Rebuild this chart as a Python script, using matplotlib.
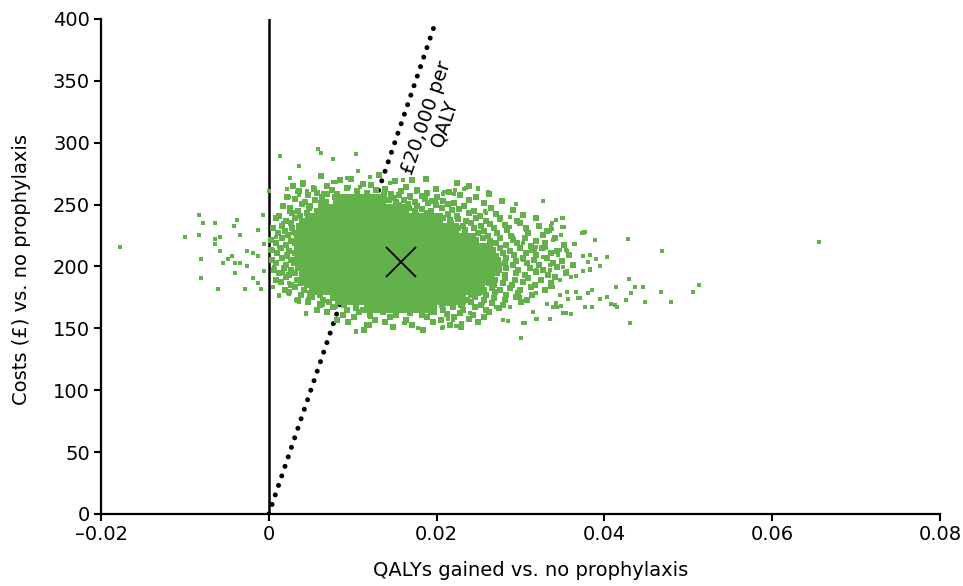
import numpy as np
import matplotlib
matplotlib.use('Agg')
import matplotlib.pyplot as plt

plt.rcParams['font.family'] = ['DejaVu Sans']

# tick labels
xticks = [-0.02, 0, 0.02, 0.04, 0.06, 0.08]
xtick_labels = ['\u20130.02', '0', '0.02', '0.04', '0.06', '0.08']
yticks = [0, 50, 100, 150, 200, 250, 300, 350, 400]

# mean of the simulations
mean_qaly = 0.0157
mean_cost = 204

# threshold line (£20,000 per QALY)
wtp = 20000
wtp_qaly = [0, 0.0199]

# dense core of the cloud: rows of cost -> qalys
core_rows = {
    254: [0.0084, 0.0096, 0.0108, 0.0120, 0.0132],
    246: [0.0066, 0.0078, 0.0090, 0.0102, 0.0114, 0.0126, 0.0138, 0.0150, 0.0160],
    238: [0.0050, 0.0060, 0.0072, 0.0084, 0.0096, 0.0108, 0.0120, 0.0132, 0.0144,
          0.0156, 0.0168, 0.0180, 0.0192, 0.0201],
    230: [0.0044, 0.0054, 0.0066, 0.0078, 0.0090, 0.0102, 0.0114, 0.0126, 0.0138,
          0.0150, 0.0162, 0.0174, 0.0186, 0.0198, 0.0210, 0.0219],
    222: [0.0041, 0.0051, 0.0063, 0.0075, 0.0087, 0.0099, 0.0111, 0.0123, 0.0135,
          0.0147, 0.0159, 0.0171, 0.0183, 0.0195, 0.0207, 0.0219, 0.0231, 0.0240],
    214: [0.0041, 0.0051, 0.0063, 0.0075, 0.0087, 0.0099, 0.0111, 0.0123, 0.0135,
          0.0147, 0.0159, 0.0171, 0.0183, 0.0195, 0.0207, 0.0219, 0.0231, 0.0243,
          0.0255, 0.0260],
    206: [0.0041, 0.0051, 0.0063, 0.0075, 0.0087, 0.0099, 0.0111, 0.0123, 0.0135,
          0.0147, 0.0159, 0.0171, 0.0183, 0.0195, 0.0207, 0.0219, 0.0231, 0.0243,
          0.0255, 0.0266],
    198: [0.0043, 0.0053, 0.0065, 0.0077, 0.0089, 0.0101, 0.0113, 0.0125, 0.0137,
          0.0149, 0.0161, 0.0173, 0.0185, 0.0197, 0.0209, 0.0221, 0.0233, 0.0245,
          0.0257, 0.0267],
    190: [0.0048, 0.0058, 0.0070, 0.0082, 0.0094, 0.0106, 0.0118, 0.0130, 0.0142,
          0.0154, 0.0166, 0.0178, 0.0190, 0.0202, 0.0214, 0.0226, 0.0238, 0.0250,
          0.0262],
    182: [0.0060, 0.0070, 0.0082, 0.0094, 0.0106, 0.0118, 0.0130, 0.0142, 0.0154,
          0.0166, 0.0178, 0.0190, 0.0202, 0.0214, 0.0226, 0.0238, 0.0250],
    174: [0.0086, 0.0096, 0.0108, 0.0120, 0.0132, 0.0144, 0.0156, 0.0168, 0.0180,
          0.0192, 0.0204, 0.0216, 0.0228],
    167: [0.0120, 0.0130, 0.0142, 0.0154, 0.0166, 0.0178, 0.0189],
}

# speckled band just outside the core (qalys, cost), written row by row
band_qaly = [
    0.0062, 0.0098, 0.0131, 0.0187,
    0.0041, 0.0085, 0.0112, 0.0150, 0.0171, 0.0224,
    0.0029, 0.0054, 0.0069, 0.0093, 0.0122, 0.0139, 0.0163, 0.0199, 0.0238,
    0.0036, 0.0058, 0.0075, 0.0081, 0.0105, 0.0117, 0.0128, 0.0146, 0.0158, 0.0177, 0.0189, 0.0215, 0.0262,
    0.0022, 0.0047, 0.0063, 0.0069, 0.0079, 0.0137, 0.0149, 0.0155, 0.0168, 0.0182, 0.0201, 0.0228, 0.0247,
    0.0031, 0.0043, 0.0055, 0.0068, 0.0143, 0.0152, 0.0161, 0.0174, 0.0186, 0.0195, 0.0208, 0.0221, 0.0239, 0.0278,
    0.0017, 0.0039, 0.0049, 0.0062, 0.0155, 0.0166, 0.0177, 0.0190, 0.0199, 0.0214, 0.0233, 0.0256,
    0.0025, 0.0035, 0.0048, 0.0057, 0.0167, 0.0174, 0.0183, 0.0193, 0.0206, 0.0218, 0.0227, 0.0244, 0.0265, 0.0291,
    0.0012, 0.0028, 0.0037, 0.0046, 0.0175, 0.0189, 0.0201, 0.0213, 0.0224, 0.0238, 0.0252, 0.0271, 0.0303,
    0.0008, 0.0021, 0.0031, 0.0040, 0.0208, 0.0216, 0.0226, 0.0235, 0.0247, 0.0259, 0.0276, 0.0296, 0.0318,
    0.0016, 0.0027, 0.0036, 0.0217, 0.0231, 0.0241, 0.0253, 0.0264, 0.0281, 0.0299, 0.0322,
    0.0005, 0.0019, 0.0028, 0.0036, 0.0226, 0.0234, 0.0244, 0.0256, 0.0268, 0.0284, 0.0306, 0.0331,
    0.0011, 0.0023, 0.0032, 0.0236, 0.0249, 0.0261, 0.0272, 0.0289, 0.0309, 0.0327,
    0.0003, 0.0016, 0.0026, 0.0034, 0.0247, 0.0255, 0.0264, 0.0276, 0.0291, 0.0305, 0.0318, 0.0341,
    0.0009, 0.0021, 0.0031, 0.0258, 0.0271, 0.0283, 0.0296, 0.0312, 0.0329, 0.0352,
    0.0002, 0.0014, 0.0024, 0.0033, 0.0267, 0.0275, 0.0287, 0.0299, 0.0314, 0.0326, 0.0344,
    0.0010, 0.0022, 0.0031, 0.0271, 0.0279, 0.0292, 0.0306, 0.0319, 0.0336, 0.0358,
    0.0004, 0.0016, 0.0026, 0.0034, 0.0273, 0.0283, 0.0295, 0.0303, 0.0316, 0.0331, 0.0349,
    0.0009, 0.0020, 0.0030, 0.0274, 0.0281, 0.0291, 0.0308, 0.0322, 0.0339, 0.0363,
    0.0006, 0.0018, 0.0027, 0.0035, 0.0274, 0.0283, 0.0297, 0.0311, 0.0327, 0.0344,
    0.0012, 0.0024, 0.0031, 0.0039, 0.0272, 0.0282, 0.0294, 0.0305, 0.0318, 0.0333, 0.0354,
    0.0008, 0.0021, 0.0033, 0.0040, 0.0269, 0.0281, 0.0293, 0.0309, 0.0324, 0.0341,
    0.0014, 0.0027, 0.0038, 0.0046, 0.0262, 0.0268, 0.0279, 0.0290, 0.0303, 0.0317, 0.0336,
    0.0019, 0.0031, 0.0042, 0.0052, 0.0257, 0.0266, 0.0276, 0.0288, 0.0299, 0.0313, 0.0329,
    0.0024, 0.0038, 0.0049, 0.0061, 0.0071, 0.0241, 0.0249, 0.0259, 0.0270, 0.0283, 0.0297, 0.0314,
    0.0035, 0.0052, 0.0064, 0.0076, 0.0236, 0.0246, 0.0257, 0.0268, 0.0281, 0.0294, 0.0308,
    0.0047, 0.0061, 0.0072, 0.0089, 0.0103, 0.0206, 0.0214, 0.0229, 0.0241, 0.0253, 0.0266, 0.0279, 0.0301,
    0.0058, 0.0076, 0.0093, 0.0104, 0.0112, 0.0197, 0.0207, 0.0219, 0.0232, 0.0246, 0.0259, 0.0274,
    0.0069, 0.0088, 0.0107, 0.0121, 0.0136, 0.0152, 0.0168, 0.0183, 0.0197, 0.0212, 0.0228, 0.0243, 0.0262,
    0.0081, 0.0102, 0.0127, 0.0144, 0.0163, 0.0189, 0.0205, 0.0221, 0.0238, 0.0257,
    0.0094, 0.0119, 0.0139, 0.0171, 0.0196, 0.0216, 0.0249,
    0.0113, 0.0148, 0.0184, 0.0229,
]
band_cost = [
    273.1, 270.4, 274.2, 271.0,
    267.2, 269.5, 266.8, 268.9, 270.1, 267.5,
    265.0, 262.6, 264.9, 263.1, 265.8, 262.9, 264.4, 263.0, 265.2,
    261.2, 259.0, 261.9, 258.7, 260.8, 259.3, 261.5, 258.4, 260.6, 261.7, 259.1, 260.3, 258.8,
    256.1, 257.8, 255.9, 258.2, 256.4, 257.6, 255.7, 258.0, 256.6, 257.3, 255.8, 258.1, 256.2,
    254.2, 252.1, 253.8, 251.9, 254.0, 252.4, 253.6, 251.8, 254.3, 252.6, 253.3, 251.7, 254.1, 252.8,
    249.1, 250.8, 248.7, 251.0, 249.4, 250.6, 248.9, 251.2, 249.3, 250.5, 248.8, 250.9,
    247.3, 245.2, 246.9, 244.8, 247.1, 245.0, 246.6, 244.7, 247.4, 245.3, 246.8, 244.9, 247.0, 245.5,
    241.0, 243.1, 240.8, 242.9, 241.3, 243.2, 240.7, 242.6, 241.1, 243.0, 240.9, 242.8, 241.4,
    239.2, 237.0, 238.8, 236.9, 239.1, 237.2, 238.7, 236.8, 239.3, 237.1, 238.9, 236.7, 239.0,
    233.1, 235.0, 232.8, 234.9, 233.0, 235.2, 232.9, 234.7, 233.3, 235.1, 232.7,
    231.1, 229.0, 230.9, 228.8, 231.2, 229.1, 230.8, 228.9, 231.0, 229.3, 230.7, 228.7,
    227.0, 225.1, 226.9, 224.8, 227.2, 225.0, 226.7, 224.9, 227.1, 225.2,
    221.0, 223.1, 220.8, 222.9, 221.1, 223.0, 220.9, 222.8, 221.2, 223.2, 220.7, 222.7,
    219.1, 217.0, 218.9, 216.8, 219.0, 217.1, 218.8, 216.9, 219.2, 217.2,
    213.0, 215.1, 212.9, 214.8, 213.1, 215.0, 212.8, 214.9, 213.2, 215.2, 212.7,
    211.1, 209.0, 210.9, 208.8, 211.0, 209.1, 210.8, 208.9, 211.2, 209.2,
    205.0, 207.1, 204.9, 206.8, 205.1, 207.0, 204.8, 206.9, 205.2, 207.2, 204.7,
    203.1, 201.0, 202.9, 200.8, 203.0, 201.1, 202.8, 200.9, 203.2, 201.2,
    197.0, 199.1, 196.9, 198.8, 197.1, 199.0, 196.8, 198.9, 197.2, 199.2,
    195.1, 193.0, 194.9, 192.8, 195.0, 193.1, 194.8, 192.9, 195.2, 193.2, 194.7,
    189.0, 191.1, 188.9, 190.8, 189.1, 191.0, 188.8, 190.9, 189.2, 191.2,
    187.1, 185.0, 186.9, 184.8, 187.0, 185.1, 186.8, 184.9, 187.2, 185.2, 186.7,
    181.0, 183.1, 180.9, 182.8, 181.1, 183.0, 180.8, 182.9, 181.2, 183.2, 180.7,
    179.1, 177.0, 178.9, 176.8, 179.0, 177.1, 178.8, 176.9, 179.2, 177.2, 178.7, 176.7,
    173.0, 175.1, 172.9, 174.8, 173.1, 175.0, 172.8, 174.9, 173.2, 175.2, 172.7,
    171.1, 169.0, 170.9, 168.8, 171.0, 169.1, 170.8, 168.9, 171.2, 169.2, 170.7, 168.7, 171.3,
    165.0, 167.1, 164.9, 166.8, 165.1, 167.0, 164.8, 166.9, 165.2, 167.2, 164.7, 166.7,
    163.1, 161.0, 162.9, 160.8, 163.0, 161.1, 162.8, 160.9, 163.2, 161.2, 162.7, 160.7, 163.3,
    157.0, 159.1, 156.9, 158.8, 157.1, 159.0, 156.8, 158.9, 157.2, 159.2,
    155.1, 153.0, 154.9, 152.8, 155.0, 153.1, 154.8,
    149.0, 151.1, 148.9, 150.8,
]

# scattered simulations further out (qalys, cost)
fringe_qaly = [
    -0.01774, -0.00832, -0.00788, -0.00995, -0.00832, -0.00645, -0.00645, -0.00586,
    -0.00645, -0.00586, -0.00812, -0.00812, -0.00605, -0.00378, -0.00419, -0.00339,
    -0.00073, -0.00132, -0.00542, -0.00482, -0.00438, -0.00398, -0.00339, -0.00398,
    -0.00255, -0.00255, -0.00192, -0.00279, -0.00132, -0.00092, -0.00192, -0.00132,
    -0.00052, -0.00052,
    0.00588, 0.00627, 0.00135, 0.00767, 0.01033, 0.00361, 0.00258, 0.01057,
    0.00934, 0.00000, 0.00770, 0.00218, 0.00404, 0.00457, 0.00333, 0.01200,
    0.01300, 0.01594, 0.01585,
    0.00440, 0.01033, 0.01161, 0.01614, 0.01773, 0.02063, 0.02230, 0.02298,
    0.02130, 0.00123, 0.00237, 0.00357, 0.00472, 0.00600,
    0.03010, 0.04300, 0.04293, 0.04278, 0.04687, 0.04668, 0.04790, 0.05057,
    0.05121, 0.04481, 0.04465, 0.04361, 0.04322, 0.04257, 0.04155, 0.04135,
    0.04075, 0.04036, 0.03947, 0.04031, 0.03947, 0.03904, 0.03824, 0.03765,
    0.03745, 0.03824, 0.03745, 0.03848, 0.03808, 0.03765, 0.03848, 0.03685,
    0.03645, 0.03497, 0.03497, 0.03375, 0.03272, 0.02942, 0.03541, 0.03558,
    0.03601, 0.03558, 0.03601, 0.03356, 0.03480, 0.03311, 0.03192, 0.03045,
    0.02850, 0.02286, 0.02330, 0.02497, 0.02611, 0.02206, 0.02083, 0.02700,
    0.02747, 0.02575, 0.03172, 0.03375, 0.03300, 0.03446, 0.03351, 0.03383,
    0.03467, 0.03422,
    0.06560, 0.03888, 0.03761, 0.03737, 0.03558, 0.03502, 0.03518, 0.03359,
    0.03351, 0.03479, 0.03637, 0.03745, 0.03804, 0.03828, 0.03741, 0.03657,
    0.03666, 0.03705, 0.03601, 0.03538, 0.03351, 0.03189, 0.03049, 0.03434,
    0.03562, 0.04120,
    0.00392, 0.00524, 0.00802, 0.00961, 0.01081, 0.01439, 0.01618, 0.01757,
    0.02214, 0.02354, 0.02492, 0.02611, 0.02074, 0.02950, 0.03267, 0.00246,
    0.00365, 0.00643, 0.00246, 0.00166, 0.00087, 0.00047, 0.00067, 0.00047,
    0.00126, 0.00246, 0.00326, 0.00445, 0.00643, 0.01041, 0.01161, 0.01200,
    0.01618, 0.01776, 0.02074, 0.02194, 0.02393, 0.02552, 0.02790, 0.03029,
    0.03148, 0.03387, 0.03506, 0.02870, 0.02711, 0.02989, 0.03189, 0.03347,
    0.03467, 0.03506, 0.03347, 0.03189, 0.03029, 0.03267, 0.03467, 0.03387,
    0.03189, 0.03029, 0.02909, 0.03069, 0.02870, 0.02751, 0.02870, 0.02592,
    0.02432, 0.02313, 0.02154, 0.01996, 0.01836, 0.01677, 0.03506, 0.03427,
    0.00126, 0.00166, 0.00206, 0.00285, 0.00246, 0.00604, 0.00802, 0.00484,
    0.01518, 0.01916, 0.01359, 0.00802, 0.00484, 0.02313, 0.02552,
]
fringe_cost = [
    215.5, 241.9, 234.9, 223.8, 225.4, 235.1, 222.5, 223.8,
    218.4, 212.5, 205.8, 190.7, 182.1, 237.8, 232.5, 225.4,
    241.9, 229.5, 203.1, 205.8, 208.5, 203.1, 203.1, 194.7,
    200.4, 212.8, 190.7, 182.1, 186.4, 182.1, 211.2, 208.5,
    218.2, 196.1,
    294.9, 292.0, 289.3, 286.6, 290.6, 280.9, 271.2, 276.9,
    271.2, 261.2, 268.5, 262.9, 265.6, 261.2, 260.2, 272.5,
    273.9, 269.9, 261.8,
    161.6, 147.6, 153.3, 154.3, 150.3, 150.3, 151.9, 154.6,
    157.3, 176.2, 177.5, 171.1, 173.7, 170.2,
    142.0, 154.6, 189.6, 222.5, 212.8, 179.6, 171.3, 179.6,
    185.0, 171.3, 183.7, 183.7, 178.3, 172.7, 167.0, 183.7,
    169.9, 175.6, 174.0, 207.4, 200.4, 205.8, 209.3, 228.1,
    226.8, 197.7, 196.6, 181.0, 178.3, 167.0, 167.0, 174.3,
    218.4, 239.2, 232.1, 234.9, 252.9, 250.5, 213.3, 196.6,
    191.3, 179.6, 161.6, 157.3, 168.3, 169.9, 157.3, 154.6,
    156.0, 154.6, 262.9, 262.9, 260.2, 258.6, 260.2, 242.4,
    237.6, 245.1, 213.3, 230.5, 215.0, 209.3, 201.0, 183.7,
    177.0, 170.7,
    219.8, 221.2, 227.9, 226.8, 212.8, 239.4, 232.2, 233.0,
    228.9, 225.7, 218.4, 208.7, 203.9, 197.4, 196.3, 192.1,
    179.1, 174.3, 161.6, 162.4, 157.6, 157.3, 154.3, 167.3,
    174.0, 169.0,
    265.9, 264.5, 268.5, 264.5, 264.0, 267.2, 263.2, 260.4,
    261.8, 263.2, 263.2, 260.4, 258.6, 250.5, 253.2, 256.4,
    257.8, 259.2, 244.3, 234.9, 224.1, 213.3, 199.8, 183.7,
    177.0, 178.3, 172.9, 162.2, 168.9, 147.3, 152.7, 159.4,
    154.6, 150.0, 151.3, 156.8, 162.2, 159.4, 156.8, 154.1,
    163.5, 167.5, 162.2, 167.5, 167.5, 175.6, 178.3, 183.7,
    189.1, 199.8, 197.2, 197.2, 205.2, 207.9, 213.3, 221.4,
    216.0, 218.7, 224.1, 229.5, 232.2, 237.6, 240.2, 243.0,
    244.3, 248.3, 251.1, 253.7, 256.4, 255.1, 232.2, 237.6,
    216.0, 194.5, 207.9, 226.8, 186.4, 248.3, 251.1, 240.2,
    164.8, 162.2, 166.2, 167.5, 175.6, 167.5, 170.3,
]

green = '#62b14a'

fig = plt.figure(figsize=(9.63, 5.86), dpi=100)
ax = fig.add_axes([0.1049, 0.1229, 0.8713, 0.8447])

# vertical line at zero QALYs and the threshold line
ax.plot([0, 0], [0, 400], color='black', lw=1.8, zorder=1)
ax.plot(wtp_qaly, [q * wtp for q in wtp_qaly], color='black', lw=3.6,
        linestyle=(0, (0.01, 2.0)), dash_capstyle='round', zorder=1)

core_q = [q for c in core_rows for q in core_rows[c]]
core_c = [c for c in core_rows for q in core_rows[c]]
ax.scatter(core_q, core_c, marker='s', s=80, color=green, linewidths=0, zorder=2)
ax.scatter(band_qaly, band_cost, marker='s', s=15, color=green, linewidths=0, zorder=2)
ax.scatter(fringe_qaly, fringe_cost, marker='s', s=9, color=green, linewidths=0, zorder=2)

ax.plot(mean_qaly, mean_cost, marker='x', markersize=21, mew=1.3, color='black', zorder=4)

ax.text(0.0198, 318, '£20,000 per\nQALY', rotation=71, rotation_mode='anchor',
        ha='center', va='center', fontsize=14, linespacing=1.0)

ax.set_xlim(-0.02, 0.08)
ax.set_ylim(0, 400)
ax.set_xticks(xticks)
ax.set_xticklabels(xtick_labels)
ax.set_yticks(yticks)
ax.tick_params(labelsize=14, width=1.5, length=5, direction='out', pad=3)
for s in ['top', 'right']:
    ax.spines[s].set_visible(False)
for s in ['left', 'bottom']:
    ax.spines[s].set_linewidth(1.6)

ax.set_xlabel('QALYs gained vs. no prophylaxis', fontsize=14)
ax.set_ylabel('Costs (£) vs. no prophylaxis', fontsize=14)
ax.xaxis.set_label_coords(0.512, -0.095)
ax.yaxis.set_label_coords(-0.083, 0.493)

fig.savefig('out.png', dpi=100)
